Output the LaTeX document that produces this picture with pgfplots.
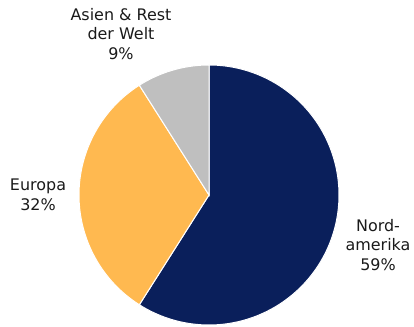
\documentclass[border=0pt]{standalone}
\usepackage{pgfplots}
\pgfplotsset{compat=1.18}
\usepackage{fontspec}
\setmainfont{DejaVu Sans}
\definecolor{navy}{HTML}{0A1F5B}
\definecolor{gold}{HTML}{FFB950}
\definecolor{lgray}{HTML}{BFBFBF}
\definecolor{txt}{HTML}{1A1A1A}
\begin{document}
\begin{tikzpicture}
\begin{axis}[
  scale only axis, width=414bp, height=327bp,
  xmin=0, xmax=414, ymin=0, ymax=327,
  axis lines=none, clip=false,
  samples=120,
]
% shares: Nordamerika 59, Europa 32, Asien & Rest der Welt 9 (angles from 90 deg, clockwise)
\addplot[fill=navy, draw=white, line width=1pt, domain=-122.4:90] ({209+130*cos(x)},{132+130*sin(x)}) -- (axis cs:209,132) -- cycle;
\addplot[fill=gold, draw=white, line width=1pt, domain=-237.6:-122.4] ({209+130*cos(x)},{132+130*sin(x)}) -- (axis cs:209,132) -- cycle;
\addplot[fill=lgray, draw=white, line width=1pt, domain=-270:-237.6] ({209+130*cos(x)},{132+130*sin(x)}) -- (axis cs:209,132) -- cycle;
\node[align=center, font=\fontsize{16}{19.5}\selectfont, text=txt] at (axis cs:121,293) {Asien \& Rest\\der Welt\\9\%};
\node[align=center, font=\fontsize{16}{19.5}\selectfont, text=txt] at (axis cs:38,132) {Europa\\32\%};
\node[align=center, font=\fontsize{16}{19.5}\selectfont, text=txt] at (axis cs:378,82) {Nord-\\amerika\\59\%};
\end{axis}
\pgfresetboundingbox
\path (0,0) rectangle (414bp,327bp);
\end{tikzpicture}
\end{document}
